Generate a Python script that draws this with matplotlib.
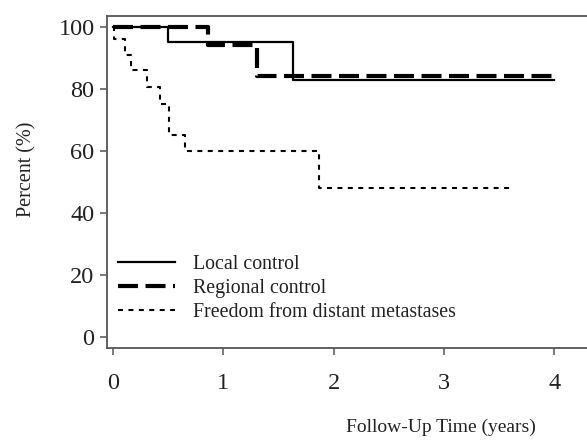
import matplotlib
matplotlib.use("Agg")
import matplotlib.pyplot as plt

# Data (Kaplan-Meier style step curves)
local_t = [0, 0.50, 1.63, 4.00]
local_s = [100, 95, 83, 83]
regional_t = [0, 0.86, 1.31, 4.00]
regional_s = [100, 94, 84, 84]
distant_t = [0, 0.01, 0.11, 0.16, 0.31, 0.43, 0.51, 0.65, 1.87, 3.62]
distant_s = [100, 96, 91, 86, 80.5, 75, 65, 60, 48, 48]
labels = ["Local control", "Regional control", "Freedom from distant metastases"]
xticks = [0, 1, 2, 3, 4]
yticks = [0, 20, 40, 60, 80, 100]

plt.rcParams['font.family'] = ['Liberation Serif', 'DejaVu Serif']

fig = plt.figure(figsize=(5.87, 4.40), dpi=100)
ax = fig.add_axes([107/587, 1-348/440, (587-107)/587, (348-16)/440])

ax.plot(local_t, local_s, drawstyle='steps-post', color='black', lw=1.6, label=labels[0])
ax.plot(regional_t, regional_s, drawstyle='steps-post', color='black', lw=3.0,
        dashes=(4.8, 1.8), label=labels[1])
ax.plot(distant_t, distant_s, drawstyle='steps-post', color='black', lw=1.5,
        dashes=(2.4, 2.6), label=labels[2])

ax.set_xlim(-0.054, 4.297)
ax.set_ylim(-3.55, 103.5)
ax.set_xticks(xticks)
ax.set_yticks(yticks)

spine_c = '#555555'
for s in ['left', 'bottom', 'top']:
    ax.spines[s].set_color(spine_c)
    ax.spines[s].set_linewidth(1.3)
ax.spines['right'].set_visible(False)

ax.tick_params(axis='both', direction='out', length=5, width=1.1, color=spine_c,
               labelcolor='#222222', labelsize=17.5)
ax.tick_params(axis='x', pad=13)
ax.tick_params(axis='y', pad=4)

ax.set_xlabel("Follow-Up Time (years)", fontsize=14, color='#222222')
ax.xaxis.set_label_coords((441-107)/480, (348-419)/332)
ax.set_ylabel("Percent (%)", fontsize=14.5, color='#222222')
ax.yaxis.set_label_coords((36-107)/480, (348-169)/332)

leg = ax.legend(loc='upper left', bbox_to_anchor=((118-107)/480, (348-255)/332),
                frameon=False, fontsize=14.3, handlelength=2.85, handletextpad=0.95,
                labelspacing=0.26, borderaxespad=0, borderpad=0)
for t in leg.get_texts():
    t.set_color('#222222')

fig.savefig("out.png", dpi=100)
